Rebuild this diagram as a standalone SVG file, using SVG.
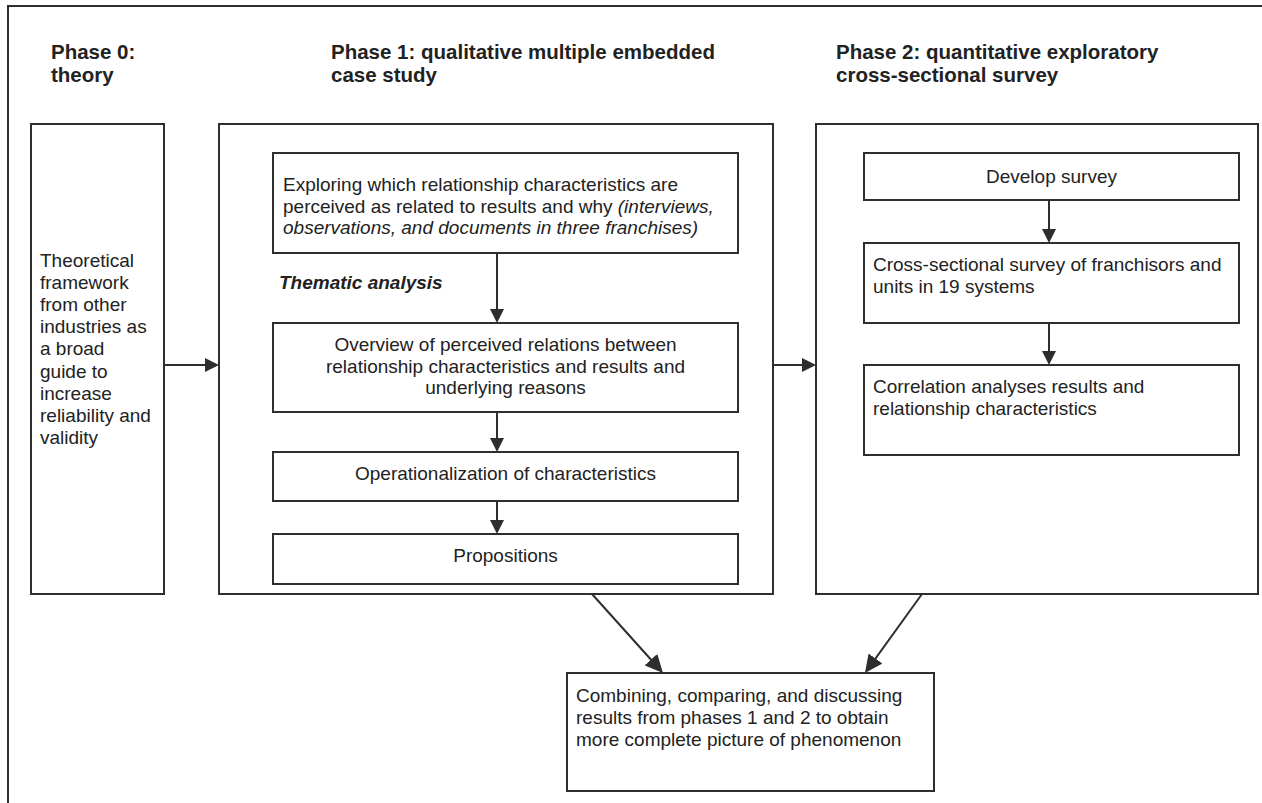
<svg xmlns="http://www.w3.org/2000/svg" width="1262" height="803" viewBox="0 0 1262 803">
<style>
  .box{fill:#fff;stroke:#2e2e2e;stroke-width:2}
  .frame{fill:none;stroke:#2e2e2e;stroke-width:2}
  .t{font-family:"Liberation Sans",Arial,sans-serif;font-size:19px;fill:#222}
  .c{text-anchor:middle}
  .h{font-family:"Liberation Sans",Arial,sans-serif;font-size:20.5px;font-weight:bold;fill:#222}
  .ti{font-style:italic}
  .bi{font-weight:bold;font-style:italic}
  .ln{fill:none;stroke:#2e2e2e;stroke-width:2}
</style>
<defs>
  <marker id="ah" markerUnits="userSpaceOnUse" markerWidth="14" markerHeight="14" refX="10" refY="7" orient="auto">
    <path d="M0,0 L14,7 L0,14 z" fill="#2e2e2e"/>
  </marker>
  <marker id="ahL" markerUnits="userSpaceOnUse" markerWidth="18" markerHeight="17" refX="14" refY="8.5" orient="auto">
    <path d="M0,0 L18,8.5 L0,17 z" fill="#2e2e2e"/>
  </marker>
</defs>
<rect width="1262" height="803" fill="#fff"/>
<rect id="frame" class="frame" x="8" y="6" width="1262" height="810"/>

<g id="titles">
  <text class="h" x="51" y="59">Phase 0:</text>
  <text class="h" x="51" y="82">theory</text>
  <text class="h" x="331" y="59">Phase 1: qualitative multiple embedded</text>
  <text class="h" x="331" y="82">case study</text>
  <text class="h" x="836" y="59">Phase 2: quantitative exploratory</text>
  <text class="h" x="836" y="82">cross-sectional survey</text>
</g>

<g id="phase0">
  <rect class="box" x="31" y="124" width="133" height="470"/>
  <text class="t" x="40" y="267">Theoretical</text>
  <text class="t" x="40" y="289">framework</text>
  <text class="t" x="40" y="311">from other</text>
  <text class="t" x="40" y="333">industries as</text>
  <text class="t" x="40" y="355">a broad</text>
  <text class="t" x="40" y="377.5">guide to</text>
  <text class="t" x="40" y="400">increase</text>
  <text class="t" x="40" y="422">reliability and</text>
  <text class="t" x="40" y="444">validity</text>
</g>

<g id="phase1">
  <rect class="box" x="219" y="124" width="554" height="470"/>
</g>

<g id="phase2">
  <rect class="box" x="816" y="124" width="442" height="470"/>
</g>

<g id="explore">
  <rect class="box" x="273" y="153" width="465" height="100"/>
  <text class="t" x="283" y="191">Exploring which relationship characteristics are</text>
  <text class="t" x="283" y="212.5">perceived as related to results and why <tspan class="ti">(interviews,</tspan></text>
  <text class="t ti" x="283" y="234">observations, and documents in three franchises)</text>
</g>

<g id="thematic-label">
  <text class="t bi" x="279" y="289">Thematic analysis</text>
</g>

<g id="overview">
  <rect class="box" x="273" y="323" width="465" height="89"/>
  <text class="t c" x="505.5" y="351">Overview of perceived relations between</text>
  <text class="t c" x="505.5" y="372.5">relationship characteristics and results and</text>
  <text class="t c" x="505.5" y="394">underlying reasons</text>
</g>

<g id="operationalization">
  <rect class="box" x="273" y="452" width="465" height="49"/>
  <text class="t c" x="505.5" y="480">Operationalization of characteristics</text>
</g>

<g id="propositions">
  <rect class="box" x="273" y="534" width="465" height="50"/>
  <text class="t c" x="505.5" y="562">Propositions</text>
</g>

<g id="develop">
  <rect class="box" x="864" y="153" width="375" height="47"/>
  <text class="t c" x="1051.5" y="183">Develop survey</text>
</g>

<g id="crosssectional">
  <rect class="box" x="864" y="243" width="375" height="80"/>
  <text class="t" x="873" y="271">Cross-sectional survey of franchisors and</text>
  <text class="t" x="873" y="292.5">units in 19 systems</text>
</g>

<g id="correlation">
  <rect class="box" x="864" y="365" width="375" height="90"/>
  <text class="t" x="873" y="393">Correlation analyses results and</text>
  <text class="t" x="873" y="415">relationship characteristics</text>
</g>

<g id="combining">
  <rect class="box" x="567" y="673" width="367" height="118"/>
  <text class="t" x="576" y="702">Combining, comparing, and discussing</text>
  <text class="t" x="576" y="724">results from phases 1 and 2 to obtain</text>
  <text class="t" x="576" y="746">more complete picture of phenomenon</text>
</g>

<g id="connectors">
  <line class="ln" x1="164" y1="365" x2="215" y2="365" marker-end="url(#ah)"/>
  <line class="ln" x1="773" y1="365" x2="812" y2="365" marker-end="url(#ah)"/>
  <line class="ln" x1="497" y1="253" x2="497" y2="319" marker-end="url(#ah)"/>
  <line class="ln" x1="497" y1="412" x2="497" y2="448" marker-end="url(#ah)"/>
  <line class="ln" x1="497" y1="501" x2="497" y2="530" marker-end="url(#ah)"/>
  <line class="ln" x1="1049" y1="200" x2="1049" y2="239" marker-end="url(#ah)"/>
  <line class="ln" x1="1049" y1="323" x2="1049" y2="361" marker-end="url(#ah)"/>
  <line class="ln" x1="592" y1="594" x2="660.3" y2="670" marker-end="url(#ahL)"/>
  <line class="ln" x1="922" y1="594" x2="867.3" y2="669.8" marker-end="url(#ahL)"/>
</g>
</svg>
